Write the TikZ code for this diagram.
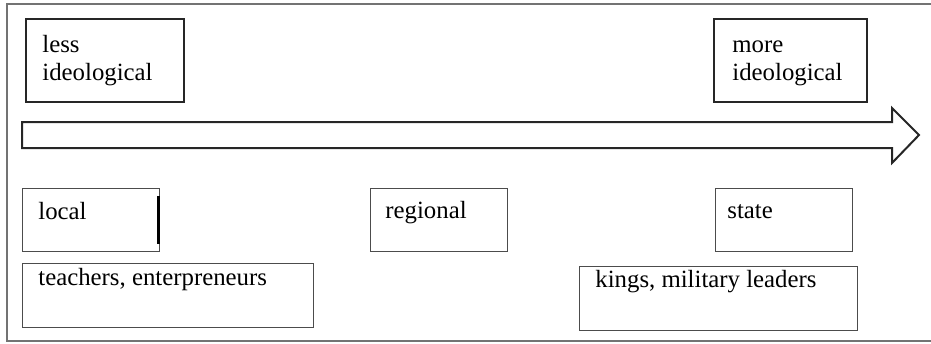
\documentclass[tikz,border=0pt]{standalone}
\usepackage{fontspec}
\setmainfont{Liberation Serif}
\usepackage{tikz}

\begin{document}
\begin{tikzpicture}[x=0.5pt, y=-0.5pt,
		heavybox/.style={line width=1pt, color=black!85},
		lightbox/.style={line width=0.5pt, color=black!70},
		txt/.style={inner sep=0pt, anchor=base west, align=left, font=\fontsize{12.4}{14}\selectfont}]
		%%%%% START %%%%%
		
		\useasboundingbox (0, 0) rectangle (931, 343);
		\draw[line width=0.6pt, color=black!55] (931, 4) -- (7, 4) -- (7, 341) -- (931, 341);
		
		\draw[heavybox] (26, 19) rectangle (184, 102);
		\node[txt] (less) at (42, 80) {less\\ideological};
		
		\draw[heavybox] (714, 19) rectangle (867, 102);
		\node[txt] (more) at (732, 80) {more\\ideological};
		
		\draw[heavybox, line join=miter] (22, 122) -- (892, 122) -- (892, 108) -- (919, 135)
			-- (892, 163) -- (892, 148) -- (22, 148) -- cycle;
		
		\draw[lightbox] (22, 188) rectangle (159, 251);
		\draw[line width=1.5pt] (158, 196) -- (158, 244);
		\node[txt] (local) at (38, 219) {local};
		
		\draw[lightbox] (370, 188) rectangle (507, 251);
		\node[txt] (regional) at (385, 218) {regional};
		
		\draw[lightbox] (715, 188) rectangle (852, 251);
		\node[txt] (state) at (727, 218) {state};
		
		\draw[lightbox] (22, 263) rectangle (313, 327);
		\node[txt] (teachers) at (38, 285) {teachers, enterpreneurs};
		
		\draw[lightbox] (579, 266) rectangle (857, 330);
		\node[txt] (kings) at (595, 287) {kings, military leaders};
		
		%%%%% END %%%%%
	\end{tikzpicture}
\end{document}
